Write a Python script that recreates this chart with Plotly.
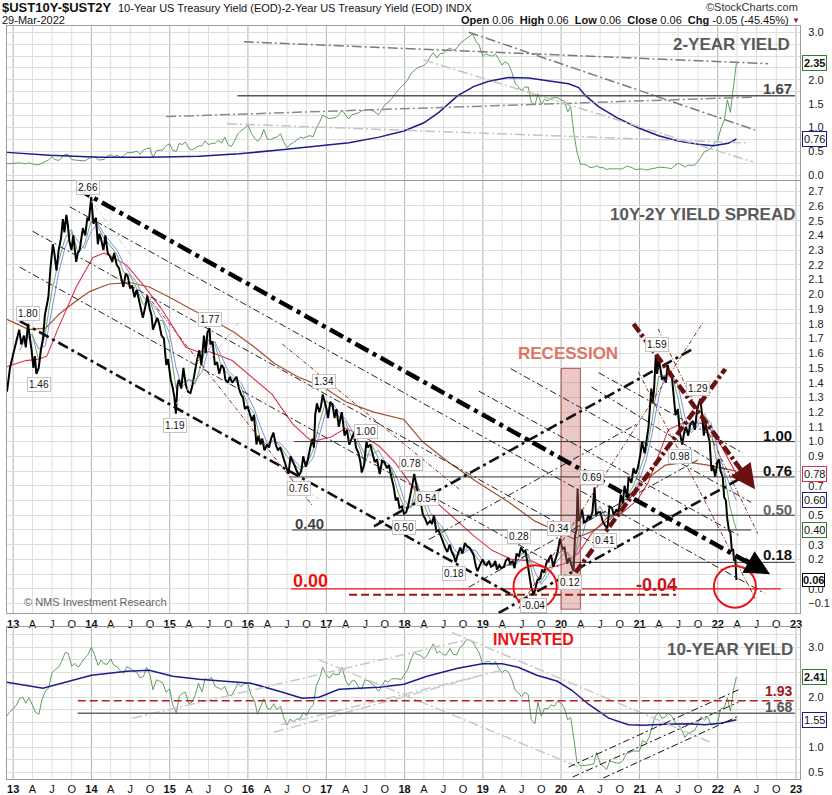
import pandas as pd
import plotly.graph_objects as go

# ======================= DATA =======================
X_START, X_END = "2012-12-03", "2023-01-20"

# 2-year yield, semi-monthly (1st / 15th) from Dec 2012, plus last close
TWO_YEAR = (
    [0.25, 0.24] +
    [0.25, 0.26, 0.26, 0.25, 0.24, 0.26, 0.24, 0.22, 0.22, 0.25, 0.30, 0.32, 0.39, 0.33, 0.31, 0.36, 0.44, 0.43, 0.33, 0.32, 0.31, 0.30, 0.30, 0.34] +
    [0.38, 0.40, 0.32, 0.32, 0.33, 0.40, 0.43, 0.39, 0.42, 0.37, 0.41, 0.47, 0.47, 0.48, 0.51, 0.44, 0.53, 0.56, 0.57, 0.37, 0.52, 0.52, 0.53, 0.62] +
    [0.66, 0.52, 0.50, 0.67, 0.64, 0.70, 0.56, 0.53, 0.58, 0.61, 0.62, 0.72, 0.64, 0.67, 0.67, 0.73, 0.68, 0.80, 0.64, 0.60, 0.73, 0.87, 0.94, 0.98] +
    [1.05, 0.90, 0.78, 0.71, 0.79, 0.96, 0.76, 0.75, 0.78, 0.80, 0.87, 0.71, 0.58, 0.64, 0.69, 0.73, 0.80, 0.78, 0.81, 0.83, 0.81, 0.99, 1.12, 1.26] +
    [1.22, 1.19, 1.20, 1.21, 1.28, 1.37, 1.26, 1.18, 1.27, 1.29, 1.31, 1.35, 1.36, 1.38, 1.36, 1.33, 1.27, 1.38, 1.48, 1.52, 1.60, 1.69, 1.78, 1.85] +
    [1.92, 2.00, 2.14, 2.20, 2.25, 2.28, 2.30, 2.36, 2.49, 2.57, 2.46, 2.55, 2.56, 2.62, 2.67, 2.62, 2.66, 2.76, 2.82, 2.87, 2.92, 2.96, 2.80, 2.73] +
    [2.49, 2.55, 2.51, 2.50, 2.54, 2.44, 2.31, 2.38, 2.33, 2.18, 1.93, 1.86, 1.77, 1.85, 1.85, 1.53, 1.47, 1.71, 1.48, 1.59, 1.56, 1.62, 1.62, 1.63] +
    [1.58, 1.56, 1.33, 1.44, 0.87, 0.49, 0.23, 0.23, 0.21, 0.16, 0.17, 0.20, 0.16, 0.16, 0.12, 0.14, 0.13, 0.14, 0.13, 0.14, 0.19, 0.18, 0.15, 0.12] +
    [0.13, 0.13, 0.11, 0.12, 0.14, 0.15, 0.17, 0.17, 0.16, 0.15, 0.14, 0.21, 0.25, 0.22, 0.17, 0.21, 0.21, 0.21, 0.29, 0.38, 0.50, 0.52, 0.57, 0.67] +
    [0.73, 0.97, 1.17, 1.58, 1.32, 1.85]
)
TWO_YEAR_LAST = ("2022-03-29", 2.35)

# 10-year yield, semi-monthly from Dec 2012, plus last close
TEN_YEAR = (
    [1.62, 1.70] +
    [1.76, 1.84, 1.98, 2.00, 1.88, 1.99, 1.84, 1.70, 1.66, 1.95, 2.13, 2.18, 2.49, 2.55, 2.60, 2.72, 2.90, 2.88, 2.62, 2.68, 2.60, 2.70, 2.79, 2.85] +
    [3.00, 2.86, 2.64, 2.75, 2.67, 2.66, 2.77, 2.64, 2.61, 2.53, 2.48, 2.61, 2.58, 2.53, 2.50, 2.39, 2.42, 2.60, 2.45, 2.15, 2.35, 2.32, 2.28, 2.10] +
    [2.17, 1.85, 1.68, 2.02, 2.08, 2.10, 1.87, 1.90, 2.05, 2.28, 2.11, 2.37, 2.35, 2.40, 2.22, 2.19, 2.15, 2.22, 2.04, 2.03, 2.15, 2.28, 2.21, 2.28] +
    [2.27, 2.05, 1.93, 1.66, 1.83, 1.97, 1.77, 1.76, 1.87, 1.75, 1.82, 1.61, 1.44, 1.56, 1.51, 1.56, 1.57, 1.69, 1.63, 1.77, 1.84, 2.23, 2.39, 2.60] +
    [2.45, 2.38, 2.48, 2.45, 2.46, 2.60, 2.34, 2.24, 2.33, 2.33, 2.20, 2.16, 2.35, 2.33, 2.27, 2.22, 2.12, 2.20, 2.34, 2.30, 2.37, 2.37, 2.37, 2.35] +
    [2.46, 2.55, 2.77, 2.90, 2.86, 2.84, 2.78, 2.83, 2.97, 3.07, 2.89, 2.92, 2.85, 2.85, 2.98, 2.86, 2.85, 2.99, 3.05, 3.16, 3.14, 3.11, 2.99, 2.89] +
    [2.66, 2.71, 2.72, 2.65, 2.72, 2.59, 2.49, 2.55, 2.50, 2.37, 2.14, 2.09, 2.01, 2.10, 2.05, 1.55, 1.47, 1.90, 1.62, 1.77, 1.77, 1.85, 1.82, 1.92] +
    [1.88, 1.79, 1.55, 1.59, 1.16, 0.70, 0.62, 0.63, 0.63, 0.64, 0.66, 0.89, 0.67, 0.62, 0.55, 0.72, 0.69, 0.68, 0.68, 0.73, 0.87, 0.89, 0.92, 0.92] +
    [0.92, 1.13, 1.09, 1.20, 1.44, 1.62, 1.69, 1.58, 1.60, 1.68, 1.62, 1.50, 1.45, 1.36, 1.19, 1.28, 1.31, 1.33, 1.48, 1.61, 1.54, 1.61, 1.44, 1.46] +
    [1.50, 1.77, 1.80, 1.99, 1.72, 2.14]
)
TEN_YEAR_LAST = ("2022-03-29", 2.41)

# long moving averages of the yields
TWO_YEAR_MA = [
    ("2012-12-03", 0.48), ("2013-06-20", 0.42), ("2014-02-08", 0.38), ("2014-09-28", 0.38),
    ("2015-05-18", 0.40), ("2015-11-20", 0.45), ("2016-05-26", 0.53), ("2016-11-28", 0.62),
    ("2017-04-17", 0.68), ("2017-09-04", 0.80), ("2017-12-29", 0.93), ("2018-04-01", 1.10),
    ("2018-06-10", 1.32), ("2018-09-06", 1.67), ("2018-11-19", 1.86), ("2019-01-28", 1.97),
    ("2019-05-01", 2.05), ("2019-08-03", 2.04), ("2019-11-04", 1.98), ("2020-02-05", 1.92),
    ("2020-03-23", 1.84), ("2020-04-24", 1.67), ("2020-06-24", 1.44), ("2020-09-25", 1.19),
    ("2020-12-28", 0.99), ("2021-03-31", 0.83), ("2021-07-01", 0.72), ("2021-10-02", 0.65),
    ("2021-12-11", 0.62), ("2022-02-19", 0.67), ("2022-03-29", 0.76),
]
TEN_YEAR_MA = [
    ("2012-12-03", 2.30), ("2013-05-20", 2.18), ("2014-01-01", 2.44), ("2014-06-15", 2.52),
    ("2014-09-28", 2.54), ("2015-01-15", 2.42), ("2015-05-18", 2.36), ("2015-10-10", 2.32),
    ("2016-01-15", 2.28), ("2016-05-26", 2.12), ("2016-09-10", 1.98), ("2016-11-28", 2.00),
    ("2017-03-01", 2.16), ("2017-09-04", 2.20), ("2017-12-29", 2.26), ("2018-04-15", 2.42),
    ("2018-09-06", 2.58), ("2018-12-30", 2.67), ("2019-04-01", 2.67), ("2019-06-15", 2.60),
    ("2019-09-10", 2.44), ("2019-12-15", 2.32), ("2020-02-20", 2.14), ("2020-05-08", 1.86),
    ("2020-08-10", 1.58), ("2020-11-10", 1.45), ("2021-01-20", 1.44), ("2021-05-01", 1.46),
    ("2021-08-15", 1.47), ("2021-11-01", 1.45), ("2022-01-15", 1.48), ("2022-03-29", 1.55),
]

# 10Y-2Y spread
SPREAD = [
    ("2012-12-03", 1.34), ("2012-12-17", 1.50), ("2013-01-02", 1.60), ("2013-01-15", 1.68), ("2013-01-29", 1.76),
    ("2013-02-08", 1.66), ("2013-02-20", 1.72), ("2013-03-01", 1.64), ("2013-03-11", 1.80), ("2013-03-20", 1.70),
    ("2013-03-28", 1.62), ("2013-04-05", 1.50), ("2013-04-12", 1.58), ("2013-04-19", 1.46), ("2013-04-30", 1.50),
    ("2013-05-10", 1.62), ("2013-05-20", 1.70), ("2013-05-29", 1.86), ("2013-06-07", 1.92), ("2013-06-14", 1.98),
    ("2013-06-24", 2.18), ("2013-07-05", 2.34), ("2013-07-12", 2.28), ("2013-07-22", 2.16), ("2013-08-01", 2.30),
    ("2013-08-12", 2.38), ("2013-08-21", 2.51), ("2013-08-28", 2.42), ("2013-09-06", 2.54), ("2013-09-13", 2.47),
    ("2013-09-20", 2.36), ("2013-09-30", 2.30), ("2013-10-08", 2.40), ("2013-10-22", 2.22), ("2013-10-29", 2.28),
    ("2013-11-07", 2.30), ("2013-11-15", 2.38), ("2013-11-22", 2.45), ("2013-12-03", 2.40), ("2013-12-13", 2.52),
    ("2013-12-20", 2.50), ("2013-12-31", 2.66),
    ("2014-01-10", 2.48), ("2014-01-22", 2.52), ("2014-01-31", 2.34), ("2014-02-07", 2.41), ("2014-02-14", 2.38),
    ("2014-02-26", 2.30), ("2014-03-07", 2.40), ("2014-03-18", 2.28), ("2014-03-28", 2.26), ("2014-04-08", 2.22),
    ("2014-04-17", 2.28), ("2014-04-29", 2.20), ("2014-05-09", 2.18), ("2014-05-20", 2.10), ("2014-05-30", 2.05),
    ("2014-06-10", 2.14), ("2014-06-20", 2.12), ("2014-06-30", 2.04), ("2014-07-10", 2.06), ("2014-07-21", 1.98),
    ("2014-07-31", 2.03), ("2014-08-11", 1.96), ("2014-08-20", 1.90), ("2014-08-29", 1.84), ("2014-09-10", 1.92),
    ("2014-09-19", 1.99), ("2014-09-30", 1.90), ("2014-10-08", 1.86), ("2014-10-15", 1.76), ("2014-10-24", 1.80),
    ("2014-11-04", 1.84), ("2014-11-13", 1.80), ("2014-11-24", 1.72), ("2014-12-05", 1.70), ("2014-12-16", 1.52),
    ("2014-12-24", 1.56),
    ("2015-01-06", 1.42), ("2015-01-16", 1.36), ("2015-01-23", 1.30), ("2015-01-30", 1.19), ("2015-02-06", 1.38),
    ("2015-02-13", 1.42), ("2015-02-24", 1.36), ("2015-03-06", 1.50), ("2015-03-18", 1.38), ("2015-03-27", 1.34),
    ("2015-04-08", 1.33), ("2015-04-17", 1.38), ("2015-04-28", 1.48), ("2015-05-08", 1.55), ("2015-05-19", 1.62),
    ("2015-05-29", 1.52), ("2015-06-10", 1.72), ("2015-06-18", 1.60), ("2015-06-26", 1.74), ("2015-07-06", 1.77),
    ("2015-07-10", 1.66), ("2015-07-20", 1.68), ("2015-07-31", 1.52), ("2015-08-10", 1.54), ("2015-08-20", 1.46),
    ("2015-08-31", 1.52), ("2015-09-10", 1.50), ("2015-09-18", 1.42), ("2015-09-30", 1.40), ("2015-10-08", 1.44),
    ("2015-10-20", 1.40), ("2015-10-30", 1.42), ("2015-11-09", 1.44), ("2015-11-20", 1.36), ("2015-11-30", 1.32),
    ("2015-12-09", 1.30), ("2015-12-18", 1.22), ("2015-12-30", 1.24),
    ("2016-01-08", 1.20), ("2016-01-20", 1.14), ("2016-01-29", 1.18), ("2016-02-10", 0.98), ("2016-02-19", 1.04),
    ("2016-02-29", 0.98), ("2016-03-08", 1.02), ("2016-03-18", 0.94), ("2016-03-31", 0.98), ("2016-04-08", 0.96),
    ("2016-04-18", 1.02), ("2016-04-29", 1.06), ("2016-05-10", 0.98), ("2016-05-20", 0.94), ("2016-05-31", 0.96),
    ("2016-06-09", 0.92), ("2016-06-16", 0.88), ("2016-06-27", 0.84), ("2016-07-08", 0.78), ("2016-07-18", 0.90),
    ("2016-07-28", 0.86), ("2016-08-05", 0.84), ("2016-08-16", 0.80), ("2016-08-26", 0.77), ("2016-09-06", 0.80),
    ("2016-09-15", 0.90), ("2016-09-27", 0.83), ("2016-10-07", 0.88), ("2016-10-18", 0.96), ("2016-10-28", 1.02),
    ("2016-11-04", 0.96), ("2016-11-10", 1.18), ("2016-11-18", 1.26), ("2016-11-29", 1.20), ("2016-12-07", 1.24),
    ("2016-12-15", 1.32), ("2016-12-22", 1.28), ("2016-12-30", 1.24),
    ("2017-01-09", 1.16), ("2017-01-19", 1.27), ("2017-01-30", 1.25), ("2017-02-08", 1.16), ("2017-02-17", 1.22),
    ("2017-02-28", 1.10), ("2017-03-08", 1.16), ("2017-03-14", 1.20), ("2017-03-27", 1.04), ("2017-04-07", 1.08),
    ("2017-04-18", 0.98), ("2017-04-28", 1.02), ("2017-05-10", 1.06), ("2017-05-19", 0.96), ("2017-05-31", 0.92),
    ("2017-06-09", 0.86), ("2017-06-15", 0.79), ("2017-06-26", 0.84), ("2017-07-07", 1.00), ("2017-07-14", 0.96),
    ("2017-07-25", 0.98), ("2017-08-04", 0.92), ("2017-08-15", 0.86), ("2017-08-25", 0.88), ("2017-09-07", 0.78),
    ("2017-09-18", 0.87), ("2017-09-29", 0.86), ("2017-10-10", 0.82), ("2017-10-20", 0.84), ("2017-10-31", 0.76),
    ("2017-11-10", 0.70), ("2017-11-21", 0.60), ("2017-11-30", 0.62), ("2017-12-08", 0.55), ("2017-12-19", 0.56),
    ("2017-12-29", 0.51),
    ("2018-01-08", 0.52), ("2018-01-17", 0.56), ("2018-01-29", 0.64), ("2018-02-08", 0.72), ("2018-02-15", 0.78),
    ("2018-02-26", 0.68), ("2018-03-08", 0.62), ("2018-03-19", 0.57), ("2018-03-28", 0.50), ("2018-04-06", 0.48),
    ("2018-04-17", 0.44), ("2018-04-30", 0.46), ("2018-05-09", 0.44), ("2018-05-18", 0.50), ("2018-05-29", 0.39),
    ("2018-06-08", 0.40), ("2018-06-19", 0.35), ("2018-06-29", 0.32), ("2018-07-09", 0.28), ("2018-07-19", 0.25),
    ("2018-07-31", 0.30), ("2018-08-09", 0.25), ("2018-08-20", 0.22), ("2018-08-27", 0.18), ("2018-09-07", 0.24),
    ("2018-09-18", 0.28), ("2018-09-28", 0.24), ("2018-10-09", 0.31), ("2018-10-19", 0.29), ("2018-10-30", 0.28),
    ("2018-11-08", 0.26), ("2018-11-19", 0.23), ("2018-11-30", 0.15), ("2018-12-07", 0.12), ("2018-12-18", 0.16),
    ("2018-12-31", 0.20),
    ("2019-01-09", 0.17), ("2019-01-18", 0.16), ("2019-01-30", 0.19), ("2019-02-08", 0.15), ("2019-02-20", 0.16),
    ("2019-02-28", 0.19), ("2019-03-08", 0.13), ("2019-03-19", 0.16), ("2019-03-28", 0.14), ("2019-04-09", 0.15),
    ("2019-04-18", 0.19), ("2019-04-30", 0.21), ("2019-05-09", 0.17), ("2019-05-20", 0.19), ("2019-05-29", 0.14),
    ("2019-06-07", 0.24), ("2019-06-18", 0.22), ("2019-06-28", 0.28), ("2019-07-10", 0.25), ("2019-07-19", 0.26),
    ("2019-07-31", 0.15), ("2019-08-08", 0.07), ("2019-08-15", 0.01), ("2019-08-27", -0.04), ("2019-09-06", 0.02),
    ("2019-09-13", 0.06), ("2019-09-26", 0.07), ("2019-10-04", 0.13), ("2019-10-15", 0.11), ("2019-10-25", 0.18),
    ("2019-11-05", 0.20), ("2019-11-15", 0.23), ("2019-11-26", 0.15), ("2019-12-06", 0.20), ("2019-12-16", 0.25),
    ("2019-12-27", 0.34),
    ("2020-01-08", 0.27), ("2020-01-17", 0.28), ("2020-01-30", 0.17), ("2020-02-07", 0.21), ("2020-02-14", 0.18),
    ("2020-02-21", 0.14), ("2020-02-28", 0.12), ("2020-03-06", 0.36), ("2020-03-13", 0.40), ("2020-03-18", 0.68),
    ("2020-03-24", 0.46), ("2020-03-31", 0.48), ("2020-04-08", 0.54), ("2020-04-17", 0.45), ("2020-04-28", 0.46),
    ("2020-05-07", 0.50), ("2020-05-15", 0.47), ("2020-05-26", 0.52), ("2020-06-05", 0.69), ("2020-06-12", 0.50),
    ("2020-06-22", 0.52), ("2020-07-02", 0.52), ("2020-07-13", 0.46), ("2020-07-24", 0.43), ("2020-08-04", 0.41),
    ("2020-08-14", 0.56), ("2020-08-25", 0.55), ("2020-09-03", 0.50), ("2020-09-15", 0.54), ("2020-09-25", 0.52),
    ("2020-10-06", 0.64), ("2020-10-15", 0.58), ("2020-10-23", 0.70), ("2020-11-04", 0.62), ("2020-11-11", 0.76),
    ("2020-11-24", 0.72), ("2020-12-04", 0.82), ("2020-12-14", 0.78), ("2020-12-24", 0.82),
    ("2021-01-06", 0.92), ("2021-01-12", 1.00), ("2021-01-25", 0.92), ("2021-02-04", 1.04), ("2021-02-12", 1.10),
    ("2021-02-25", 1.36), ("2021-03-03", 1.26), ("2021-03-10", 1.36), ("2021-03-18", 1.59), ("2021-03-24", 1.46),
    ("2021-03-31", 1.56), ("2021-04-08", 1.50), ("2021-04-16", 1.42), ("2021-04-26", 1.44), ("2021-05-04", 1.40),
    ("2021-05-12", 1.52), ("2021-05-21", 1.46), ("2021-06-01", 1.44), ("2021-06-10", 1.30), ("2021-06-18", 1.18),
    ("2021-06-29", 1.22), ("2021-07-08", 1.06), ("2021-07-19", 0.98), ("2021-07-28", 1.06), ("2021-08-06", 1.10),
    ("2021-08-16", 1.04), ("2021-08-26", 1.12), ("2021-09-07", 1.14), ("2021-09-16", 1.08), ("2021-09-27", 1.22),
    ("2021-10-05", 1.26), ("2021-10-12", 1.29), ("2021-10-20", 1.18), ("2021-10-28", 1.04), ("2021-11-05", 1.12),
    ("2021-11-15", 1.06), ("2021-11-24", 1.00), ("2021-12-03", 0.80), ("2021-12-10", 0.84), ("2021-12-20", 0.76),
    ("2021-12-30", 0.86),
    ("2022-01-07", 0.88), ("2022-01-14", 0.80), ("2022-01-24", 0.76), ("2022-01-31", 0.62), ("2022-02-08", 0.60),
    ("2022-02-14", 0.48), ("2022-02-22", 0.40), ("2022-03-01", 0.38), ("2022-03-08", 0.26), ("2022-03-14", 0.27),
    ("2022-03-18", 0.19), ("2022-03-24", 0.21), ("2022-03-29", 0.06),
]

# moving averages of the spread, month-end values from Jan 2013
SPREAD_MA_FAST = (
    [1.66, 1.72, 1.73, 1.55, 1.74, 2.02, 2.22, 2.38, 2.44, 2.28, 2.34, 2.50] +
    [2.46, 2.38, 2.33, 2.27, 2.15, 2.13, 2.04, 1.93, 1.96, 1.83, 1.82, 1.66] +
    [1.36, 1.40, 1.42, 1.39, 1.54, 1.69, 1.66, 1.51, 1.46, 1.42, 1.37, 1.25] +
    [1.19, 1.01, 0.98, 1.01, 0.97, 0.90, 0.85, 0.81, 0.84, 0.94, 1.13, 1.28] +
    [1.23, 1.17, 1.13, 1.03, 0.98, 0.85, 0.98, 0.89, 0.84, 0.82, 0.66, 0.55] +
    [0.56, 0.72, 0.58, 0.47, 0.45, 0.36, 0.28, 0.22, 0.25, 0.29, 0.22, 0.16] +
    [0.17, 0.16, 0.14, 0.17, 0.16, 0.24, 0.23, 0.03, 0.05, 0.13, 0.19, 0.26] +
    [0.24, 0.17, 0.45, 0.47, 0.49, 0.56, 0.48, 0.50, 0.53, 0.62, 0.69, 0.80] +
    [0.93, 1.14, 1.44, 1.45, 1.47, 1.29, 1.06, 1.08, 1.14, 1.19, 1.08, 0.83] +
    [0.78, 0.55]
)
SPREAD_MA_FAST_LAST = ("2022-03-29", 0.40)
SPREAD_MA_MID = (
    [1.62, 1.70, 1.72, 1.63, 1.65, 1.90, 2.14, 2.32, 2.42, 2.36, 2.31, 2.43] +
    [2.48, 2.41, 2.35, 2.30, 2.21, 2.14, 2.08, 1.98, 1.95, 1.90, 1.83, 1.74] +
    [1.50, 1.37, 1.42, 1.41, 1.47, 1.62, 1.68, 1.58, 1.48, 1.44, 1.40, 1.31] +
    [1.22, 1.10, 0.99, 1.00, 0.99, 0.94, 0.88, 0.83, 0.83, 0.89, 1.04, 1.21] +
    [1.26, 1.20, 1.15, 1.08, 1.00, 0.91, 0.91, 0.94, 0.87, 0.83, 0.74, 0.60] +
    [0.55, 0.64, 0.65, 0.52, 0.46, 0.41, 0.32, 0.25, 0.24, 0.27, 0.26, 0.19] +
    [0.17, 0.17, 0.15, 0.16, 0.16, 0.20, 0.24, 0.12, 0.03, 0.09, 0.16, 0.22] +
    [0.25, 0.20, 0.32, 0.47, 0.48, 0.52, 0.52, 0.49, 0.52, 0.58, 0.66, 0.74] +
    [0.87, 1.05, 1.30, 1.45, 1.46, 1.38, 1.17, 1.06, 1.11, 1.17, 1.13, 0.95] +
    [0.80, 0.70]
)
SPREAD_MA_MID_LAST = ("2022-03-29", 0.60)
SPREAD_MA_SLOW = [
    ("2012-12-03", 1.51), ("2013-03-01", 1.55), ("2013-05-01", 1.56), ("2013-06-07", 1.58), ("2013-07-24", 1.75),
    ("2013-10-22", 2.05), ("2014-01-08", 2.25), ("2014-03-01", 2.28), ("2014-06-13", 2.20), ("2014-09-07", 2.05),
    ("2014-11-20", 1.91), ("2015-01-30", 1.75), ("2015-03-17", 1.64), ("2015-05-13", 1.61), ("2015-07-07", 1.61),
    ("2015-10-20", 1.55), ("2016-01-18", 1.44), ("2016-04-23", 1.32), ("2016-07-27", 1.12), ("2016-10-26", 1.00),
    ("2017-01-20", 1.03), ("2017-04-01", 1.09), ("2017-07-01", 1.03), ("2017-09-04", 0.97), ("2017-11-16", 0.86),
    ("2018-02-24", 0.66), ("2018-05-20", 0.60), ("2018-08-19", 0.48), ("2018-11-20", 0.36), ("2019-02-15", 0.26),
    ("2019-05-15", 0.20), ("2019-08-15", 0.19), ("2019-11-01", 0.14), ("2020-01-15", 0.17), ("2020-03-20", 0.24),
    ("2020-05-25", 0.38), ("2020-08-01", 0.48), ("2020-10-15", 0.52), ("2020-12-20", 0.60), ("2021-02-10", 0.72),
    ("2021-03-25", 0.88), ("2021-05-15", 1.08), ("2021-07-10", 1.12), ("2021-09-15", 1.13), ("2021-11-01", 1.12),
    ("2021-12-20", 1.05), ("2022-02-01", 0.93), ("2022-03-29", 0.78),
]
SPREAD_MA_LONG = [
    ("2012-12-03", 1.83), ("2013-03-15", 1.76), ("2013-06-01", 1.77), ("2013-08-07", 1.87), ("2013-10-17", 1.95),
    ("2013-12-25", 2.02), ("2014-03-25", 2.07), ("2014-06-28", 2.08), ("2014-09-28", 2.05), ("2014-12-31", 1.98),
    ("2015-04-23", 1.89), ("2015-07-27", 1.82), ("2015-10-30", 1.74), ("2016-02-01", 1.64), ("2016-05-04", 1.53),
    ("2016-08-20", 1.44), ("2016-12-18", 1.37), ("2017-04-01", 1.27), ("2017-08-10", 1.20), ("2017-12-29", 1.15),
    ("2018-03-25", 1.00), ("2018-07-25", 0.86), ("2018-11-30", 0.73), ("2019-05-01", 0.59), ("2019-09-01", 0.46),
    ("2019-12-15", 0.39), ("2020-03-01", 0.34), ("2020-05-25", 0.39), ("2020-08-23", 0.48), ("2020-11-07", 0.63),
    ("2021-01-20", 0.73), ("2021-05-01", 0.84), ("2021-08-15", 0.86), ("2021-11-15", 0.84), ("2022-01-15", 0.82),
    ("2022-03-29", 0.80),
]

# peak / trough labels on the spread: (date, value, text)
SPREAD_LABELS = [
    ("2013-12-15", 2.724, "2.66"), ("2013-03-11", 1.870, "1.80"), ("2013-05-01", 1.386, "1.46"),
    ("2015-01-27", 1.108, "1.19"), ("2015-07-07", 1.831, "1.77"), ("2016-12-21", 1.409, "1.34"),
    ("2016-08-27", 0.680, "0.76"), ("2017-07-03", 1.070, "1.00"), ("2018-01-29", 0.849, "0.78"),
    ("2017-12-29", 0.420, "0.50"), ("2018-04-16", 0.612, "0.54"), ("2018-08-19", 0.104, "0.18"),
    ("2019-06-17", 0.356, "0.28"), ("2019-12-20", 0.413, "0.34"), ("2019-08-25", -0.115, "-0.04"),
    ("2020-02-13", 0.041, "0.12"), ("2020-05-23", 0.754, "0.69"), ("2020-07-24", 0.329, "0.41"),
    ("2021-03-22", 1.657, "1.59"), ("2021-10-02", 1.362, "1.29"), ("2021-07-08", 0.901, "0.98"),
]

# trend lines: (date0, value0, date1, value1)
SPREAD_CHANNEL_MAIN = [("2013-10-24", 2.719, "2022-06-29", 0.148)]
SPREAD_CHANNEL_MEDIUM = [
    ("2013-02-01", 1.818, "2019-09-18", -0.141),
    ("2017-08-11", 0.425, "2021-08-30", 1.623),
    ("2019-03-16", -0.163, "2022-06-01", 0.787),
]
SPREAD_CHANNEL_THIN = [
    ("2013-09-22", 2.594, "2022-08-10", -0.032),
    ("2013-04-02", 2.428, "2020-06-24", 0.291),
    ("2013-02-01", 2.184, "2019-12-20", 0.149),
    ("2019-05-11", 1.495, "2022-06-06", 0.587),
    ("2020-05-22", 1.371, "2022-06-06", 0.700),
    ("2018-12-13", 1.343, "2022-04-07", 0.365),
    ("2020-06-24", 1.468, "2022-04-29", 0.922),
    ("2018-04-24", 0.335, "2020-12-27", 1.125),
    ("2018-10-27", 0.011, "2021-10-02", 0.877),
]
SPREAD_FAN_THICK = [
    ("2020-03-09", 0.111, "2022-02-05", 1.493),
    ("2020-12-04", 1.799, "2022-05-13", 0.761),
]
SPREAD_FAN_THIN = [
    ("2019-06-17", -0.135, "2021-10-25", 1.811),
    ("2020-12-27", 1.471, "2022-06-24", -0.066),
    ("2021-03-29", 1.765, "2022-07-07", 0.375),
    ("2014-09-13", 2.001, "2016-10-28", 0.565),
    ("2016-06-10", 1.662, "2018-09-11", 0.679),
]
SPREAD_LIGHT = [
    ("2013-12-07", 2.680, "2014-07-12", 2.249),
    ("2015-01-31", 1.256, "2015-11-20", 1.811),
    ("2016-07-27", 0.725, "2016-11-28", 0.611),
]
# arrows: (tail date, tail value, tip date, tip value)
SPREAD_ARROW_BLACK = ("2022-04-29", 0.203, "2022-09-02", 0.100)
SPREAD_ARROW_MAROON = ("2022-04-25", 0.797, "2022-06-24", 0.676)

# horizontal levels: (value, start, end)
LEVELS = {
    "1.00": (1.00, "2016-08-04", "2022-12-27"),
    "0.76": (0.76, "2016-07-11", "2022-12-27"),
    "0.50": (0.50, "2017-11-22", "2022-12-27"),
    "0.40": (0.40, "2016-07-25", "2022-06-06"),
    "0.18": (0.18, "2020-02-13", "2022-12-27"),
}
ZERO_LEVEL = (0.00, "2016-07-19", "2022-10-23")
INVERT_LEVEL = (-0.04, "2017-04-17", "2021-06-21")
RECESSION = ("2020-01-01", "2020-03-31", -0.138, 1.497)
CIRCLES = [("2019-05-24", "2019-12-12", -0.133, 0.161), ("2021-12-14", "2022-06-28", -0.128, 0.156)]

TOP_TRENDS_DARK = [("2015-12-13", 2.80, "2022-08-24", 2.34), ("2018-10-27", 3.00, "2022-06-24", 0.95)]
TOP_TRENDS_MID = [("2014-12-15", 1.23, "2022-06-24", 1.64)]
TOP_TRENDS_LIGHT = [("2015-09-26", 1.08, "2022-05-14", 0.68), ("2018-03-31", 2.42, "2022-06-15", 0.28)]
TOP_LEVEL = (1.67, "2015-11-13", "2022-12-27")

BOT_TRENDS_LIGHT = [
    ("2014-07-11", 1.58, "2018-10-27", 3.16),
    ("2016-05-02", 1.30, "2018-12-13", 2.42),
    ("2016-06-03", 1.45, "2019-04-08", 2.55),
    ("2016-11-28", 2.75, "2020-05-08", 0.52),
    ("2018-08-10", 3.30, "2021-11-26", 1.10),
]
BOT_CHANNEL = [
    ("2020-02-05", 0.60, "2022-04-07", 2.15),
    ("2020-02-24", 0.40, "2022-04-07", 1.90),
    ("2020-07-16", 0.38, "2022-04-07", 1.62),
]
BOT_LEVEL_RED = (1.93, "2013-10-29", "2022-12-27")
BOT_LEVEL_GRAY = (1.68, "2013-10-29", "2022-12-27")

QUARTER_TICKS = [f"{y}-{m:02d}-01" for y in range(2013, 2023) for m in (1, 4, 7, 10)] + ["2023-01-01"]
QUARTER_LABELS = []
for yy in ["13", "14", "15", "16", "17", "18", "19", "20", "21", "22"]:
    QUARTER_LABELS += [f"<b>{yy}</b>", "A", "J", "O"]
QUARTER_LABELS += ["<b>23</b>"]

# right-axis tick labels (those hidden behind the value boxes are left out, as on the chart)
TOP_TICKS = [0.0, 0.5, 1.0, 1.5, 2.0, 3.0]
MID_TICKS = [-0.1, 0.0, 0.2, 0.3, 0.5, 0.7, 0.9, 1.0, 1.1, 1.2, 1.3, 1.4, 1.5, 1.6, 1.7, 1.8, 1.9,
             2.0, 2.1, 2.2, 2.3, 2.4, 2.5, 2.6, 2.7]
BOT_TICKS = [0.5, 1.0, 2.0, 3.0]

# ======================= FIGURE =======================
PW, PH = 832, 795
def fx(p):
    return p / PW
def fy(p):
    return 1 - p / PH

FONT = "Arial"
GREEN = "#5e9e5e"
NAVY = "#1c1c8a"
MAROON = "#6b1010"
GRID = "#dedede"

semi_dates = list(pd.date_range("2012-12-01", periods=len(TWO_YEAR), freq=pd.offsets.SemiMonthBegin()))
ten_dates = list(pd.date_range("2012-12-01", periods=len(TEN_YEAR), freq=pd.offsets.SemiMonthBegin()))
ma_fast_dates = list(pd.date_range("2013-01-31", periods=len(SPREAD_MA_FAST), freq=pd.offsets.MonthEnd()))
ma_mid_dates = list(pd.date_range("2013-01-31", periods=len(SPREAD_MA_MID), freq=pd.offsets.MonthEnd()))

fig = go.Figure()

def line_trace(xs, ys, color, width, xa, ya):
    fig.add_trace(go.Scatter(x=xs, y=ys, mode="lines", line=dict(color=color, width=width),
                             xaxis=xa, yaxis=ya, hoverinfo="skip", showlegend=False))

# top panel: 2-year
line_trace(semi_dates + [pd.Timestamp(TWO_YEAR_LAST[0])], TWO_YEAR + [TWO_YEAR_LAST[1]], GREEN, 1, "x", "y")
line_trace([d for d, _ in TWO_YEAR_MA], [v for _, v in TWO_YEAR_MA], NAVY, 1.5, "x", "y")

# middle panel: spread + moving averages
line_trace([d for d, _ in SPREAD_MA_LONG], [v for _, v in SPREAD_MA_LONG], "#a0522d", 1.2, "x2", "y2")
line_trace([d for d, _ in SPREAD_MA_SLOW], [v for _, v in SPREAD_MA_SLOW], "#e0304a", 1.1, "x2", "y2")
line_trace(ma_mid_dates + [pd.Timestamp(SPREAD_MA_MID_LAST[0])], SPREAD_MA_MID + [SPREAD_MA_MID_LAST[1]], "#8a8ae6", 1, "x2", "y2")
line_trace(ma_fast_dates + [pd.Timestamp(SPREAD_MA_FAST_LAST[0])], SPREAD_MA_FAST + [SPREAD_MA_FAST_LAST[1]], "#6aa86a", 1, "x2", "y2")
line_trace([d for d, _ in SPREAD], [v for _, v in SPREAD], "black", 2, "x2", "y2")

# bottom panel: 10-year
line_trace(ten_dates + [pd.Timestamp(TEN_YEAR_LAST[0])], TEN_YEAR + [TEN_YEAR_LAST[1]], GREEN, 1, "x3", "y3")
line_trace([d for d, _ in TEN_YEAR_MA], [v for _, v in TEN_YEAR_MA], NAVY, 1.5, "x3", "y3")

shapes = []
def seg(lst, xr, yr, color, width, dash, layer="above"):
    for d0, v0, d1, v1 in lst:
        shapes.append(dict(type="line", xref=xr, yref=yr, x0=d0, y0=v0, x1=d1, y1=v1,
                           line=dict(color=color, width=width, dash=dash), layer=layer))

def hline(val, d0, d1, xr, yr, color, width, dash="solid"):
    shapes.append(dict(type="line", xref=xr, yref=yr, x0=d0, x1=d1, y0=val, y1=val,
                       line=dict(color=color, width=width, dash=dash), layer="above"))

# vertical grid: quarters light, years darker
for xr, yr in (("x", "y"), ("x2", "y2"), ("x3", "y3")):
    for d in QUARTER_TICKS:
        is_year = d.endswith("-01-01")
        shapes.append(dict(type="line", xref=xr, yref=f"{yr} domain", x0=d, x1=d, y0=0, y1=1,
                           line=dict(color=("#b4b4b4" if is_year else GRID), width=1), layer="below"))

# top trend lines
seg(TOP_TRENDS_DARK, "x", "y", "#7a7a7a", 1.5, "10px,3px,2px,3px")
seg(TOP_TRENDS_MID, "x", "y", "#8a8a8a", 1.5, "10px,3px,2px,3px")
seg(TOP_TRENDS_LIGHT, "x", "y", "#c4c4c4", 1.5, "10px,3px,2px,3px")
hline(TOP_LEVEL[0], TOP_LEVEL[1], TOP_LEVEL[2], "x", "y", "#555555", 1.5)

# middle: recession block
shapes.append(dict(type="rect", xref="x2", yref="y2", x0=RECESSION[0], x1=RECESSION[1], y0=RECESSION[2], y1=RECESSION[3],
                   fillcolor="rgba(200,110,110,0.38)", line=dict(color="rgba(160,60,50,0.8)", width=1), layer="above"))
# levels
for key, (val, d0, d1) in LEVELS.items():
    hline(val, d0, d1, "x2", "y2", "#333333", 1)
hline(ZERO_LEVEL[0], ZERO_LEVEL[1], ZERO_LEVEL[2], "x2", "y2", "#ee1111", 1.3)
hline(INVERT_LEVEL[0], INVERT_LEVEL[1], INVERT_LEVEL[2], "x2", "y2", "#9a1a10", 2, "8px,4px")
# channels
seg(SPREAD_LIGHT, "x2", "y2", "#c8c8c8", 1, "6px,3px,2px,3px")
seg(SPREAD_CHANNEL_THIN, "x2", "y2", "#222222", 1, "7px,3px,2px,3px")
seg(SPREAD_FAN_THIN, "x2", "y2", "#8b2a1a", 1, "4px,2px,1px,2px")
seg(SPREAD_CHANNEL_MEDIUM, "x2", "y2", "#111111", 2.6, "11px,4px,3px,4px")
seg(SPREAD_CHANNEL_MAIN, "x2", "y2", "#000000", 4.5, "15px,5px,4px,5px")
seg(SPREAD_FAN_THICK, "x2", "y2", MAROON, 4.5, "10px,3px,3px,3px")
# circles
for d0, d1, v0, v1 in CIRCLES:
    shapes.append(dict(type="circle", xref="x2", yref="y2", x0=d0, x1=d1, y0=v0, y1=v1,
                       line=dict(color="#ee1111", width=2), layer="above"))

# bottom lines
seg(BOT_TRENDS_LIGHT, "x3", "y3", "#c8c8c8", 1.5, "10px,3px,2px,3px")
seg(BOT_CHANNEL, "x3", "y3", "#111111", 1, "7px,3px,2px,3px")
hline(BOT_LEVEL_RED[0], BOT_LEVEL_RED[1], BOT_LEVEL_RED[2], "x3", "y3", "#b02020", 1.5, "8px,4px")
hline(BOT_LEVEL_GRAY[0], BOT_LEVEL_GRAY[1], BOT_LEVEL_GRAY[2], "x3", "y3", "#666666", 1.5)

ann = []
def text(x, y, s, size=11, color="#111", bold=False, xanchor="left", yanchor="middle", xref="paper", yref="paper", **kw):
    if bold:
        s = f"<b>{s}</b>"
    ann.append(dict(x=x, y=y, xref=xref, yref=yref, text=s, showarrow=False, xanchor=xanchor, yanchor=yanchor,
                    font=dict(family=FONT, size=size, color=color), **kw))

# header
text(fx(0), fy(8), "$UST10Y-$UST2Y", size=13, bold=True)
text(fx(116), fy(8), "10-Year US Treasury Yield (EOD)-2-Year US Treasury Yield (EOD) INDX", size=11)
text(fx(0), fy(20), "29-Mar-2022", size=11)
text(fx(802), fy(7), "©StockCharts.com", size=11, color="#333", xanchor="right")
text(fx(793), fy(20), "<b>Open</b> 0.06  <b>High</b> 0.06  <b>Low</b> 0.06  <b>Close</b> 0.06  <b>Chg</b> -0.05 (-45.45%)",
     size=11, xanchor="right")
text(fx(804), fy(21), "▼", size=8, color="#b01020", xanchor="right")

# panel titles
text(fx(794), fy(45), "2-YEAR YIELD", size=17, color="#5a5a5a", bold=True, xanchor="right")
text(fx(800), fy(215), "10Y-2Y YIELD SPREAD", size=17, color="#5a5a5a", bold=True, xanchor="right")
text(fx(797), fy(651), "10-YEAR YIELD", size=17, color="#5a5a5a", bold=True, xanchor="right")
text(fx(569), fy(354), "RECESSION", size=17, color="#de7563", bold=True, xanchor="center")
text(fx(535), fy(641), "INVERTED", size=16, color="#ee1111", bold=True, xanchor="center")
text(fx(22), fy(604), "© NMS Investment Research", size=11, color="#666")

# level labels
text(fx(796), fy(89), "1.67", size=15, color="#444", bold=True, xanchor="right")
text(fx(796), fy(437), "1.00", size=15, color="#111", bold=True, xanchor="right")
text(fx(796), fy(472), "0.76", size=15, color="#111", bold=True, xanchor="right")
text(fx(796), fy(511), "0.50", size=15, color="#666", bold=True, xanchor="right")
text(fx(796), fy(556), "0.18", size=15, color="#111", bold=True, xanchor="right")
text(fx(294), fy(525), "0.40", size=15, color="#444", bold=True)
text(fx(292), fy(582), "0.00", size=18, color="#ee1111", bold=True)
text(fx(636), fy(586), "-0.04", size=18, color="#c8141a", bold=True)
text(fx(796), fy(693), "1.93", size=14, color="#a01818", bold=True, xanchor="right")
text(fx(796), fy(709), "1.68", size=14, color="#555", bold=True, xanchor="right")

# peak/trough labels
for d, v, s in SPREAD_LABELS:
    ann.append(dict(x=d, y=v, xref="x2", yref="y2", text=s, showarrow=False, xanchor="center", yanchor="middle",
                    font=dict(family=FONT, size=10, color="#111"), bgcolor="rgba(255,255,255,0.92)",
                    bordercolor="#c4c4c4", borderwidth=1, borderpad=1))

# right-side value boxes
def vbox(val, yref, s, border, bold=False, pad=1):
    ann.append(dict(x=fx(804), y=val, xref="paper", yref=yref, text=(f"<b>{s}</b>" if bold else s), showarrow=False,
                    xanchor="left", yanchor="middle", font=dict(family=FONT, size=11, color="#111"),
                    bgcolor="white", bordercolor=border, borderwidth=1, borderpad=pad))

vbox(2.35, "y", "2.35", "#2e7d32", True)
vbox(0.76, "y", "0.76", NAVY)
vbox(0.78, "y2", "0.78", "#e0304a")
vbox(0.60, "y2", "0.60", NAVY)
vbox(0.40, "y2", "0.40", "#2e7d32")
vbox(0.06, "y2", "0.06", "#000000", True, pad=0)
vbox(2.41, "y3", "2.41", "#2e7d32", True)
vbox(1.55, "y3", "1.55", NAVY)

# arrows
for (d0, v0, d1, v1), color, w in ((SPREAD_ARROW_BLACK, "#000000", 4.5), (SPREAD_ARROW_MAROON, MAROON, 4.5)):
    ann.append(dict(x=d1, y=v1, ax=d0, ay=v0, xref="x2", yref="y2", axref="x2", ayref="y2", text="",
                    showarrow=True, arrowhead=2, arrowsize=1.1, arrowwidth=w, arrowcolor=color))

xcommon = dict(type="date", range=[X_START, X_END], domain=[fx(7), fx(802)], tickvals=QUARTER_TICKS,
               ticktext=QUARTER_LABELS, showgrid=False, showline=True,
               mirror=True, linecolor="#9a9a9a", zeroline=False, ticks="",
               tickfont=dict(family=FONT, size=11, color="#111"))
ycommon = dict(side="right", showgrid=False, showline=True, mirror=True, linecolor="#9a9a9a",
               zeroline=False, ticks="", tickformat=".1f", ticklabelstandoff=5, tickmode="array",
               tickfont=dict(family=FONT, size=11, color="#222"))

fig.update_layout(
    width=PW, height=PH, margin=dict(l=0, r=0, t=0, b=0),
    paper_bgcolor="white", plot_bgcolor="white", showlegend=False,
    xaxis=dict(xcommon, anchor="y", showticklabels=False),
    xaxis2=dict(xcommon, anchor="y2", matches="x", showticklabels=True),
    xaxis3=dict(xcommon, anchor="y3", matches="x", showticklabels=True),
    yaxis=dict(ycommon, domain=[fy(180), fy(26)], range=[-0.09, 3.132], anchor="x", tickvals=TOP_TICKS,
               minor=dict(tick0=0, dtick=0.25, showgrid=True, gridcolor=GRID)),
    yaxis2=dict(ycommon, domain=[fy(615), fy(181)], range=[-0.167, 2.7725], anchor="x2", tickvals=MID_TICKS,
                minor=dict(tick0=0, dtick=0.1, showgrid=True, gridcolor=GRID)),
    yaxis3=dict(ycommon, domain=[fy(781), fy(629)], range=[0.36, 3.4], anchor="x3", tickvals=BOT_TICKS,
                minor=dict(tick0=0, dtick=0.25, showgrid=True, gridcolor=GRID)),
    shapes=shapes, annotations=ann,
)

fig.write_html("out.html")
